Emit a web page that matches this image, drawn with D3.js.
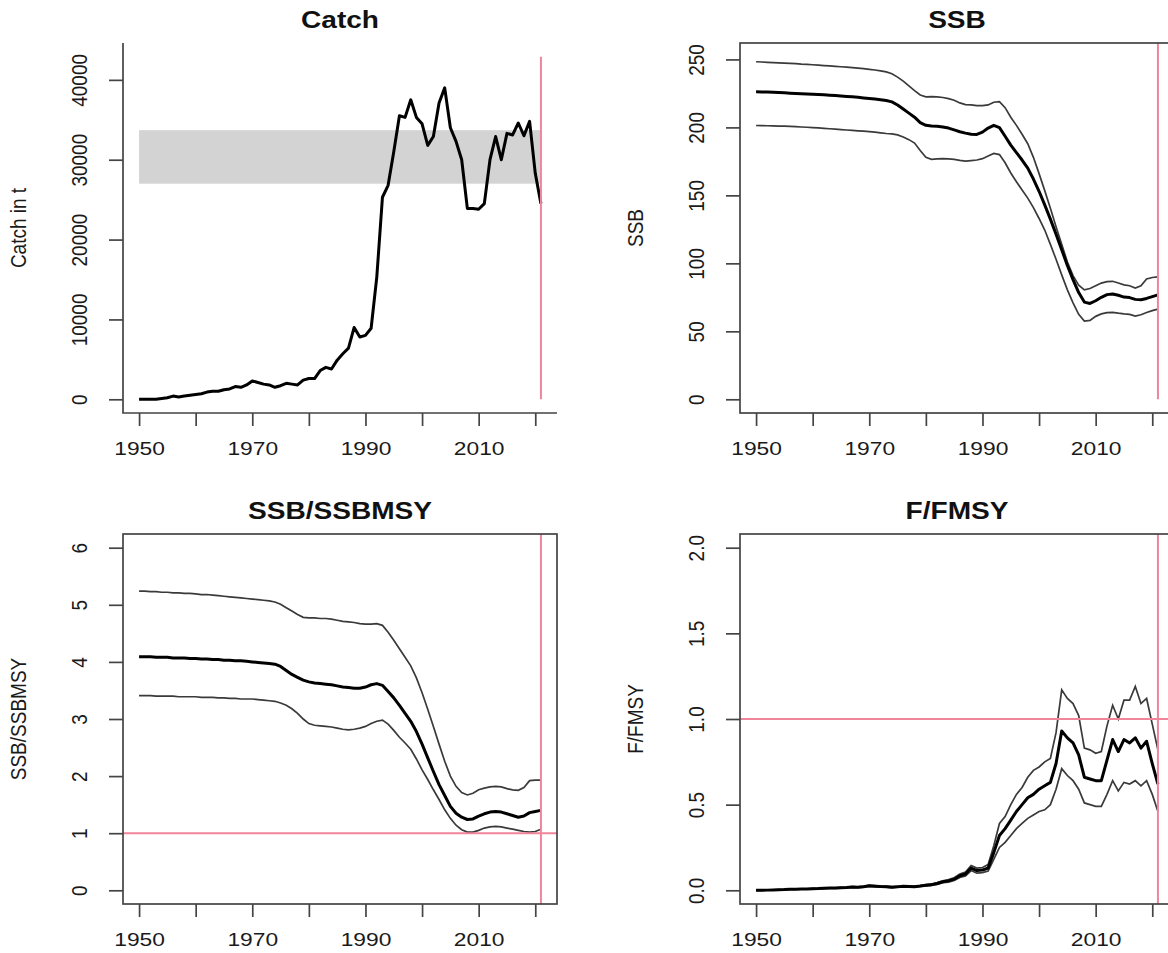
<!DOCTYPE html>
<html>
<head>
<meta charset="utf-8">
<script src="https://d3js.org/d3.v7.min.js"></script>
<style>
  body { margin: 0; background: #fff; }
  svg { display: block; font-family: "Liberation Sans", Arial, sans-serif; }
</style>
</head>
<body>
<svg id="chart" width="1168" height="953"></svg>
<script>
// ---- data ----
var years = d3.range(1950, 2022);

var catchT = [
  0, 0, 0, 0, 100, 200, 400, 300, 400, 500,
  600, 700, 900, 1000, 1000, 1200, 1300, 1600, 1500, 1800,
  2300, 2100, 1900, 1800, 1500, 1700, 2000, 1900, 1800, 2400,
  2600, 2600, 3600, 4000, 3800, 4900, 5700, 6400, 9000, 7800,
  8000, 8900, 15300, 25300, 26800, 31000, 35500, 35300, 37500, 35300,
  34500, 31800, 32900, 37100, 39000, 34000, 32300, 30000, 23900, 23900,
  23800, 24500, 30000, 32900, 30000, 33300, 33100, 34600, 33000, 34800,
  28300, 24500
];
var catchBand = [27000, 33700];
var catchTop = 42900;

var ssb = [
  226.2, 226.1, 226.0, 225.8, 225.6, 225.4, 225.2, 225.0, 224.8, 224.6,
  224.4, 224.2, 224.0, 223.7, 223.4, 223.1, 222.8, 222.5, 222.1, 221.7,
  221.3, 220.9, 220.4, 219.8, 218.8, 216.5, 213.5, 210.5, 207.5, 203.5,
  201.5, 201.0, 200.8, 200.3, 199.5, 198.2, 196.8, 195.8, 195.0, 194.8,
  196.5, 199.5, 201.5, 199.8, 193.5, 187.0, 181.5, 176.0, 170.0, 162.0,
  153.0, 143.0, 132.5, 121.5, 110.0, 98.5, 88.0, 78.5, 71.5, 70.5,
  72.5, 75.0, 77.0, 77.5, 76.5, 75.2, 74.8, 73.5, 73.2, 74.2, 75.5, 76.8
];
var ssbHi = [
  248.3, 248.1, 247.9, 247.7, 247.5, 247.3, 247.1, 246.9, 246.6, 246.4,
  246.1, 245.8, 245.5, 245.2, 244.9, 244.6, 244.3, 244.0, 243.6, 243.2,
  242.7, 242.2, 241.6, 240.8, 239.5, 237.0, 234.0, 230.5, 227.0, 223.8,
  222.5, 222.6, 222.4, 222.0, 221.2, 220.0, 218.0, 216.8, 216.5, 216.0,
  216.0, 216.5, 218.5, 219.0, 214.5, 207.5, 201.5, 195.0, 188.0, 178.0,
  166.0, 153.5, 140.5, 127.0, 114.0, 101.0, 91.0, 84.0, 80.5, 81.5,
  83.5, 85.5, 86.5, 86.8, 85.5, 84.2, 83.5, 81.8, 83.5, 88.5, 89.6, 90.1
];
var ssbLo = [
  201.4, 201.3, 201.2, 201.1, 201.0, 200.9, 200.7, 200.5, 200.3, 200.1,
  199.9, 199.6, 199.3, 199.0, 198.7, 198.4, 198.1, 197.8, 197.5, 197.2,
  196.9, 196.5, 196.0, 195.5, 195.2, 194.5, 193.0, 191.0, 188.5, 183.0,
  178.0, 176.5, 176.8, 177.0, 176.8, 176.5, 175.8, 175.2, 175.6, 176.0,
  177.0, 179.0, 180.8, 180.0, 174.0, 166.5, 160.0, 154.0, 148.0, 141.0,
  133.0, 124.5, 114.0, 103.0, 91.5, 80.5, 71.0, 62.5, 57.5, 58.0,
  61.0, 62.8, 63.8, 64.0, 63.4, 62.9, 62.5, 61.2, 62.2, 63.8, 65.2, 66.3
];

var bRatio = [
  4.09, 4.09, 4.09, 4.08, 4.08, 4.08, 4.07, 4.07, 4.07, 4.06,
  4.06, 4.05, 4.05, 4.04, 4.04, 4.03, 4.03, 4.02, 4.02, 4.01,
  4.00, 3.99, 3.98, 3.97, 3.96, 3.92, 3.85, 3.78, 3.73, 3.68,
  3.65, 3.63, 3.62, 3.61, 3.60, 3.58, 3.56, 3.55, 3.54, 3.54,
  3.56, 3.60, 3.62, 3.59, 3.48, 3.37, 3.24, 3.10, 2.96, 2.78,
  2.56, 2.32, 2.08, 1.85, 1.66, 1.47, 1.35, 1.28, 1.24, 1.25,
  1.30, 1.34, 1.37, 1.38, 1.37, 1.34, 1.31, 1.28, 1.30, 1.36, 1.38, 1.40
];
var bRatioHi = [
  5.24, 5.24, 5.23, 5.23, 5.22, 5.22, 5.21, 5.21, 5.20, 5.20,
  5.19, 5.18, 5.18, 5.17, 5.16, 5.15, 5.14, 5.13, 5.12, 5.11,
  5.10, 5.09, 5.08, 5.07, 5.05, 5.01, 4.95, 4.89, 4.83, 4.78,
  4.77, 4.77, 4.76, 4.76, 4.75, 4.73, 4.71, 4.70, 4.69, 4.67,
  4.66, 4.66, 4.67, 4.64, 4.52, 4.38, 4.23, 4.08, 3.93, 3.72,
  3.46, 3.17, 2.87, 2.56, 2.26, 2.00, 1.82, 1.71, 1.67, 1.70,
  1.76, 1.79, 1.81, 1.82, 1.81, 1.78, 1.76, 1.75, 1.80, 1.92, 1.93, 1.93
];
var bRatioLo = [
  3.41, 3.41, 3.41, 3.40, 3.40, 3.40, 3.40, 3.39, 3.39, 3.39,
  3.39, 3.38, 3.38, 3.38, 3.37, 3.37, 3.36, 3.36, 3.35, 3.35,
  3.35, 3.34, 3.33, 3.32, 3.31, 3.28, 3.24, 3.18, 3.10, 3.00,
  2.92, 2.89, 2.88, 2.87, 2.86, 2.84, 2.82, 2.81, 2.82, 2.84,
  2.87, 2.92, 2.96, 2.98, 2.91, 2.80, 2.68, 2.58, 2.47, 2.30,
  2.11, 1.94, 1.76, 1.59, 1.41, 1.26, 1.14, 1.06, 1.02, 1.02,
  1.05, 1.09, 1.11, 1.12, 1.11, 1.09, 1.07, 1.05, 1.03, 1.02, 1.03, 1.07
];

var fRatio = [
  0.000, 0.000, 0.001, 0.002, 0.003, 0.004, 0.006, 0.006, 0.007, 0.008,
  0.009, 0.010, 0.012, 0.013, 0.013, 0.015, 0.016, 0.019, 0.018, 0.021,
  0.026, 0.024, 0.022, 0.021, 0.018, 0.020, 0.023, 0.022, 0.021, 0.025,
  0.030, 0.033, 0.040, 0.050, 0.055, 0.065, 0.085, 0.095, 0.130, 0.115,
  0.118, 0.130, 0.220, 0.320, 0.360, 0.410, 0.460, 0.500, 0.540, 0.560,
  0.590, 0.610, 0.630, 0.740, 0.930, 0.890, 0.860, 0.790, 0.660, 0.650,
  0.640, 0.640, 0.760, 0.880, 0.810, 0.880, 0.860, 0.890, 0.830, 0.870, 0.740, 0.620
];
var fRatioHi = [
  0.001, 0.001, 0.002, 0.003, 0.004, 0.005, 0.007, 0.007, 0.008, 0.009,
  0.011, 0.012, 0.014, 0.015, 0.015, 0.017, 0.018, 0.021, 0.020, 0.024,
  0.029, 0.027, 0.025, 0.024, 0.021, 0.023, 0.026, 0.025, 0.024, 0.028,
  0.034, 0.037, 0.045, 0.056, 0.062, 0.073, 0.095, 0.107, 0.145, 0.130,
  0.133, 0.150, 0.260, 0.390, 0.430, 0.500, 0.560, 0.600, 0.660, 0.700,
  0.720, 0.750, 0.770, 0.920, 1.170, 1.120, 1.090, 1.020, 0.830, 0.820,
  0.800, 0.810, 0.960, 1.080, 1.000, 1.110, 1.110, 1.190, 1.090, 1.120, 0.970, 0.820
];
var fRatioLo = [
  0.000, 0.000, 0.001, 0.001, 0.002, 0.003, 0.005, 0.005, 0.006, 0.007,
  0.008, 0.009, 0.010, 0.011, 0.011, 0.013, 0.014, 0.017, 0.016, 0.019,
  0.023, 0.021, 0.019, 0.018, 0.016, 0.018, 0.020, 0.019, 0.018, 0.022,
  0.026, 0.029, 0.035, 0.044, 0.048, 0.057, 0.075, 0.083, 0.115, 0.100,
  0.103, 0.112, 0.180, 0.250, 0.280, 0.320, 0.360, 0.390, 0.420, 0.440,
  0.460, 0.470, 0.500, 0.590, 0.710, 0.670, 0.640, 0.590, 0.510, 0.500,
  0.490, 0.490, 0.560, 0.640, 0.580, 0.630, 0.620, 0.640, 0.610, 0.640, 0.560, 0.460
];

var xTicks = [1950, 1960, 1970, 1980, 1990, 2000, 2010, 2020];
var xLabelled = [1950, 1970, 1990, 2010];
var lastYear = 2021;

// ---- layout ----
var svg = d3.select("#chart");
var red = "#f0849a";
var axisCol = "#444";
var textCol = "#1a1a1a";

// R style ylim with 4% padding either side
function pad(lo, hi) {
  var r = hi - lo;
  return [lo - 0.04 * r, hi + 0.04 * r];
}

function panel(o) {
  var g = svg.append("g");
  var x = d3.scaleLinear().domain(pad(1950, lastYear)).range([o.left, o.left + 434]);
  var y = d3.scaleLinear().domain(pad(o.ylim[0], o.ylim[1])).range([o.top + 370, o.top]);
  var bottom = o.top + 370, right = o.left + 434;

  // title
  g.append("text")
      .attr("transform", "translate(" + (o.left + 217) + "," + (o.top - 15) + ") scale(1.17,1)")
      .attr("text-anchor", "middle")
      .attr("font-weight", "bold")
      .attr("font-size", 24)
      .attr("fill", "#111")
      .text(o.title);

  // y axis title (picture is stretched sideways, so the glyphs are a bit wider across)
  g.append("text")
      .attr("transform", "translate(" + (o.left - 97) + "," + (o.top + 185) + ") rotate(-90) scale(1,1.15)")
      .attr("text-anchor", "middle")
      .attr("font-size", 19)
      .attr("fill", textCol)
      .text(o.ylab);

  // reference marks
  if (o.band) {
    g.append("rect")
        .attr("x", x(1950))
        .attr("width", x(lastYear) - x(1950))
        .attr("y", y(o.band[1]))
        .attr("height", y(o.band[0]) - y(o.band[1]))
        .attr("fill", "#d3d3d3");
  }

  var line = d3.line()
      .x(function(d, i) { return x(years[i]); })
      .y(function(d) { return y(d); });

  (o.ci || []).forEach(function(s) {
    g.append("path").datum(s)
        .attr("d", line)
        .attr("fill", "none")
        .attr("stroke", "#3a3a3a")
        .attr("stroke-width", 1.7);
  });
  g.append("path").datum(o.main)
      .attr("d", line)
      .attr("fill", "none")
      .attr("stroke", "#000")
      .attr("stroke-width", 3)
      .attr("stroke-linejoin", "round");

  if (o.hline != null) {
    g.append("line")
        .attr("x1", o.left).attr("x2", right)
        .attr("y1", y(o.hline)).attr("y2", y(o.hline))
        .attr("stroke", red).attr("stroke-width", 2);
  }
  var vTop = o.vTop != null ? y(o.vTop) : o.top;
  var vBottom = o.vFull ? bottom : y(0);
  g.append("line")
      .attr("x1", x(lastYear)).attr("x2", x(lastYear))
      .attr("y1", vTop).attr("y2", vBottom)
      .attr("stroke", red).attr("stroke-width", 2);

  // frame
  if (o.box) {
    g.append("rect")
        .attr("x", o.left).attr("y", o.top)
        .attr("width", 434).attr("height", 370)
        .attr("fill", "none").attr("stroke", axisCol).attr("stroke-width", 1.7);
  } else {
    g.append("path")
        .attr("d", "M" + o.left + "," + o.top + "V" + bottom + "H" + right)
        .attr("fill", "none").attr("stroke", axisCol).attr("stroke-width", 1.7);
  }

  // x axis
  var xa = g.append("g")
      .attr("transform", "translate(0," + bottom + ")")
      .call(d3.axisBottom(x).tickValues(xTicks).tickSize(13).tickSizeOuter(0)
        .tickFormat(function(d) { return xLabelled.indexOf(d) >= 0 ? d : ""; }));
  xa.select(".domain").remove();
  xa.selectAll(".tick line").attr("stroke", axisCol).attr("stroke-width", 1.7);
  xa.selectAll(".tick text")
      .attr("y", null).attr("dy", null)
      .attr("transform", "translate(0,42) scale(1.2,1)")
      .attr("font-size", 19)
      .attr("fill", textCol);
  xa.attr("font-family", null);

  // y axis
  var ya = g.append("g")
      .attr("transform", "translate(" + o.left + ",0)")
      .call(d3.axisLeft(y).tickValues(o.yTicks).tickSize(14).tickSizeOuter(0)
        .tickFormat(o.yFormat || d3.format("d")));
  ya.select(".domain").remove();
  ya.selectAll(".tick line").attr("stroke", axisCol).attr("stroke-width", 1.7);
  ya.selectAll(".tick text")
      .attr("x", null).attr("dy", null)
      .attr("text-anchor", "middle")
      .attr("transform", "translate(-36,0) rotate(-90) scale(1,1.15)")
      .attr("font-size", 19)
      .attr("fill", textCol);
  ya.attr("font-family", null);
}

panel({
  title: "Catch", ylab: "Catch in t",
  left: 123, top: 43, box: false,
  ylim: [0, catchTop], yTicks: [0, 10000, 20000, 30000, 40000],
  band: catchBand, main: catchT, vTop: catchTop
});

panel({
  title: "SSB", ylab: "SSB",
  left: 740, top: 43, box: true,
  ylim: [0, 252], yTicks: [0, 50, 100, 150, 200, 250],
  ci: [ssbHi, ssbLo], main: ssb
});

panel({
  title: "SSB/SSBMSY", ylab: "SSB/SSBMSY",
  left: 123, top: 534, box: true, vFull: true,
  ylim: [0, 6], yTicks: [0, 1, 2, 3, 4, 5, 6],
  ci: [bRatioHi, bRatioLo], main: bRatio, hline: 1
});

panel({
  title: "F/FMSY", ylab: "F/FMSY",
  left: 740, top: 534, box: true, vFull: true,
  ylim: [0, 2], yTicks: [0, 0.5, 1, 1.5, 2], yFormat: d3.format(".1f"),
  ci: [fRatioHi, fRatioLo], main: fRatio, hline: 1
});
</script>
</body>
</html>
